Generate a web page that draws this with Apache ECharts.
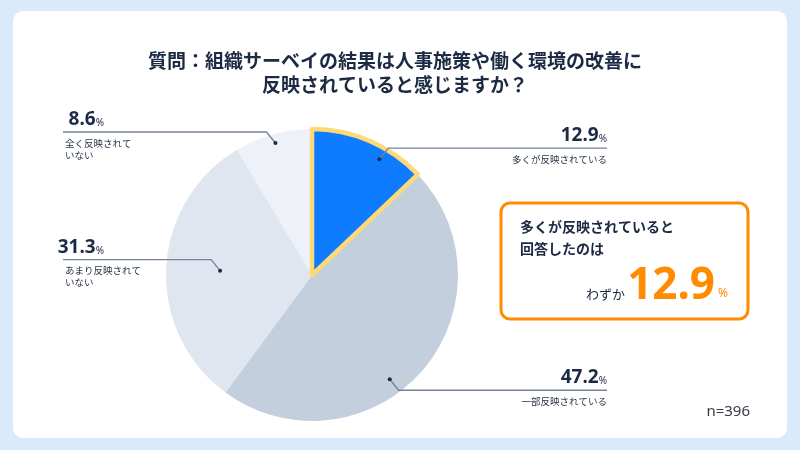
<!DOCTYPE html>
<html>
<head>
<meta charset="utf-8">
<script src="https://cdn.jsdelivr.net/npm/echarts@6/dist/echarts.min.js"></script>
<style>
html, body { margin: 0; padding: 0; background: #dbeafb; }
#main { width: 800px; height: 450px; }
</style>
</head>
<body>
<div id="main"></div>
<script>
// データ
var categories = ['多くが反映されている', '一部反映されている', 'あまり反映されて\nいない', '全く反映されて\nいない'];
var values = [12.9, 47.2, 31.3, 8.6];
var sampleSize = 396;
var titleText = '質問：組織サーベイの結果は人事施策や働く環境の改善に\n反映されていると感じますか？';
var calloutLines = ['多くが反映されていると', '回答したのは'];
var calloutPrefix = 'わずか';
var highlightIndex = 0;

// 見た目
var sliceColors = ['#0f7bff', '#c4cfdd', '#e0e6ef', '#eef2f8'];
var anchorAt = [0.65, 0.57, 0.5, 0.5];   // 引き出し線の点：スライス内の位置(0..1)
var anchorR = [134, 130, 92, 137];       // 引き出し線の点：中心からの距離
var ink = '#1c2a44';
var lineColor = '#76839a';
var orange = '#ff8c00';
var jp = '"Noto Sans CJK JP", "Noto Sans", sans-serif';

var cx = 312, cy = 275, R = 146;

var chart = echarts.init(document.getElementById('main'));

var total = values.reduce(function (s, v) { return s + v; }, 0);
var acc = 0;
var anchors = values.map(function (v, i) {
    var a = acc + v * anchorAt[i];
    acc += v;
    return [anchorR[i], a, i];
});

var pieData = values.map(function (v, i) {
    return { name: categories[i], value: v, itemStyle: { color: sliceColors[i] } };
});
// 強調スライスだけ枠付きで上に重ねる
var overlayData = values.map(function (v, i) {
    if (i === highlightIndex) {
        return {
            name: categories[i], value: v,
            itemStyle: { color: sliceColors[i], borderColor: '#fdd978', borderWidth: 4.5, borderJoin: 'round' }
        };
    }
    return { name: categories[i], value: v, itemStyle: { color: 'rgba(0,0,0,0)', borderWidth: 0 } };
});

// ラベル（点・引き出し線・数値・項目名）
function renderLabel(params, api) {
    var i = api.value(2);
    var p = api.coord([api.value(0), api.value(1)]);
    var ang = api.value(1) / total * Math.PI * 2;
    var sx = Math.sin(ang) >= 0 ? 1 : -1;
    var sy = Math.cos(ang) >= 0 ? -1 : 1;
    var right = sx > 0;
    var knee = [p[0] + sx * 9, p[1] + sy * 11];
    var lineEnd = right ? 607 : 63;
    return {
        type: 'group',
        children: [
            {
                type: 'polyline',
                shape: { points: [p, knee, [lineEnd, knee[1]]] },
                style: { stroke: lineColor, lineWidth: 1.4, fill: null }
            },
            {
                type: 'circle',
                shape: { cx: p[0], cy: p[1], r: 2 },
                style: { fill: ink }
            },
            {
                type: 'text',
                style: {
                    x: right ? 607 : 104,
                    y: knee[1] - 3,
                    text: '{p|' + values[i].toFixed(1) + '}{u|%}',
                    align: 'right',
                    verticalAlign: 'bottom',
                    rich: {
                        p: { fontSize: 19, fontWeight: 'bold', fontFamily: 'Noto Sans', fill: ink, lineHeight: 22, verticalAlign: 'bottom' },
                        u: { fontSize: 10, fontFamily: 'Noto Sans', fill: ink, lineHeight: 22, verticalAlign: 'bottom', padding: [0, 0, 1, 0] }
                    }
                }
            },
            {
                type: 'text',
                style: {
                    x: right ? 607 : 65,
                    y: knee[1] + 5,
                    text: categories[i],
                    align: right ? 'right' : 'left',
                    verticalAlign: 'top',
                    fontSize: 9.5,
                    lineHeight: 12,
                    fontFamily: jp,
                    fill: '#2a3446'
                }
            }
        ]
    };
}

var option = {
    backgroundColor: '#dbeafb',
    animation: false,
    title: {
        text: titleText,
        left: 390,
        top: 44,
        textAlign: 'center',
        textStyle: { fontSize: 19, fontWeight: 'bold', color: ink, lineHeight: 24, fontFamily: jp }
    },
    graphic: [
        {
            type: 'rect', z: -10, silent: true,
            shape: { x: 13, y: 11, width: 774, height: 427, r: 10 },
            style: { fill: '#ffffff' }
        },
        {
            type: 'rect', silent: true,
            shape: { x: 501, y: 203, width: 247, height: 116, r: 9 },
            style: { fill: '#ffffff', stroke: orange, lineWidth: 3 }
        },
        {
            type: 'text', silent: true,
            style: {
                x: 520, y: 216, text: calloutLines.join('\n'),
                fontSize: 14, fontWeight: 'bold', lineHeight: 22, fontFamily: jp, fill: ink
            }
        },
        {
            type: 'text', silent: true,
            style: {
                x: 625, y: 294, text: calloutPrefix, align: 'right', verticalAlign: 'middle',
                fontSize: 13, fontFamily: jp, fill: ink
            }
        },
        {
            type: 'text', silent: true,
            style: {
                x: 715, y: 286, text: values[highlightIndex].toFixed(1), align: 'right', verticalAlign: 'middle',
                fontSize: 44, fontWeight: 'bold', fontFamily: 'Noto Sans', fill: orange
            }
        },
        {
            type: 'text', silent: true,
            style: {
                x: 718, y: 294, text: '%', verticalAlign: 'middle',
                fontSize: 12, fontFamily: 'Noto Sans', fill: orange
            }
        },
        {
            type: 'text', silent: true,
            style: {
                x: 750, y: 412, text: 'n=' + sampleSize, align: 'right', verticalAlign: 'middle',
                fontSize: 15, fontFamily: 'Noto Sans', fill: '#333a44'
            }
        }
    ],
    polar: { center: [cx, cy], radius: R },
    angleAxis: { type: 'value', min: 0, max: total, startAngle: 90, clockwise: true, show: false },
    radiusAxis: { type: 'value', min: 0, max: R, show: false },
    series: [
        {
            type: 'pie',
            center: [cx, cy],
            radius: R,
            startAngle: 90,
            clockwise: true,
            silent: true,
            label: { show: false },
            labelLine: { show: false },
            data: pieData
        },
        {
            type: 'pie',
            center: [cx, cy],
            radius: R,
            startAngle: 90,
            clockwise: true,
            silent: true,
            z: 3,
            label: { show: false },
            labelLine: { show: false },
            data: overlayData
        },
        {
            type: 'custom',
            coordinateSystem: 'polar',
            silent: true,
            z: 5,
            renderItem: renderLabel,
            data: anchors
        }
    ]
};

chart.setOption(option);
</script>
</body>
</html>
